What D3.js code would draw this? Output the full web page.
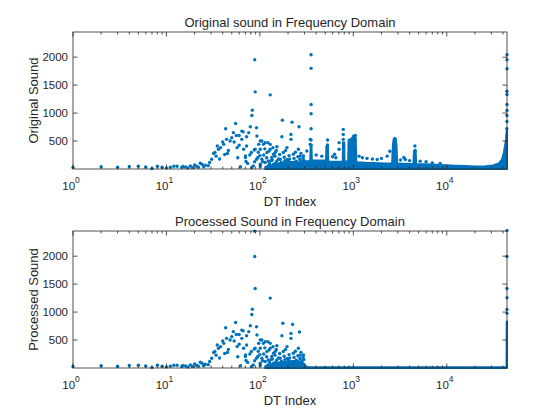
<!DOCTYPE html>
<html>
<head>
<meta charset="utf-8">
<script src="https://cdn.jsdelivr.net/npm/d3@7"></script>
<style>
  body { margin: 0; background: #fff; }
  text { font-family: "Liberation Sans", Arial, sans-serif; fill: #262626; }
</style>
</head>
<body>
<div id="chart"></div>
<script>
// low index bins (1..13)
var lowX = [1, 2, 3, 4, 5, 6, 7, 8, 9, 10, 11, 12, 13];
var lowY = [27, 41, 32, 44, 50, 37, 9, 50, 32, 20, 32, 50, 50];

// scattered cloud shared by both spectra (index, magnitude)
var cloudX = [83, 82, 55, 43, 79, 92, 66, 52, 76, 56, 48, 41, 38, 33, 32, 30.5, 29, 26, 23, 20, 18, 16, 14.6,
  45, 67, 70, 71, 93, 97, 101, 109, 122, 89, 95, 81, 64, 60, 57, 53, 50, 44, 40, 36, 35, 72, 60,
  119, 129, 146, 105, 134, 152, 114, 140, 85, 101, 122, 64, 172, 215, 215, 114, 105, 129, 72, 87,
  152, 101, 195, 258, 178, 140, 228, 293, 70, 92, 165, 123, 202, 250, 82, 101,
  110, 118, 125, 132, 138, 145, 150, 158, 163, 170, 182, 188, 196, 205, 210, 232, 240, 245, 255,
  268, 275, 282, 290, 100, 107, 113, 127, 136, 148, 160, 175, 185, 198, 208, 220, 235, 248, 262,
  270, 286, 296, 88, 96, 78, 74, 62, 58, 46, 42, 37, 34, 28, 25, 24, 22, 21, 19, 17, 15];
var cloudY = [1052, 958, 815, 721, 756, 739, 667, 650, 650, 600, 500, 441, 383, 294, 276, 174, 116, 68, 103, 73, 55, 37, 27,
  276, 352, 233, 133, 589, 441, 500, 441, 471, 352, 205, 294, 530, 424, 383, 482, 560, 530, 482, 352, 411, 578, 600,
  294, 352, 294, 174, 205, 144, 116, 85, 55, 85, 55, 678, 578, 619, 530, 471, 500, 441, 411, 340,
  400, 352, 383, 352, 294, 263, 263, 233, 205, 174, 174, 144, 144, 116, 27, 44,
  250, 200, 320, 150, 380, 230, 330, 180, 260, 120, 210, 330, 170, 240, 95, 190, 300, 140, 220,
  170, 280, 130, 190, 240, 130, 360, 100, 160, 110, 70, 90, 150, 60, 180, 110, 75, 60, 100,
  230, 80, 150, 130, 300, 250, 100, 40, 200, 330, 260, 180, 230, 60, 40, 85, 30, 50, 28, 20, 45];

// points seen only in the original spectrum
var origX = [88, 89, 129, 174, 221, 262, 353, 353, 353, 353, 353, 353, 353, 346, 346, 318, 346,
  530, 530, 524, 780, 780, 780, 788, 630, 704, 704, 955, 1050, 1050, 2780, 2780, 2780, 2460, 4560, 4590, 3470,
  44100, 44050, 44100, 44000, 44100, 44050, 44100, 44000, 44050, 43900,
  400, 460, 600, 650, 1150, 1250, 1400, 1600, 1800, 2000, 2300, 3200, 3600, 4000, 5200, 6000, 7000, 8500];
var origY = [1954, 1380, 1326, 874, 838, 756, 2043, 1800, 1153, 988, 721, 518, 424, 530, 441, 322, 116,
  518, 429, 400, 708, 619, 530, 420, 263, 471, 352, 530, 601, 500, 543, 471, 420, 317, 411, 330, 205,
  2043, 1954, 1794, 1390, 1331, 1153, 1046, 957, 850, 721,
  250, 230, 220, 200, 230, 200, 190, 180, 170, 190, 230, 160, 170, 150, 140, 130, 110, 100];

// points seen only in the processed spectrum
var procX = [88, 88, 89, 129, 176, 224, 265, 44100, 44100, 44050, 44100, 44050, 44100];
var procY = [2447, 1995, 1423, 1250, 800, 780, 643, 2460, 1995, 1423, 1257, 1048, 977];

// upper edge of the dense band of points near the baseline
var origBandX = [114, 146, 190, 240, 290, 310, 345, 350, 356, 360, 440, 510, 515, 535, 540, 740, 770, 775, 800, 805,
  880, 890, 960, 1000, 1060, 1075, 1100, 1350, 2200, 2600, 2650, 2700, 2850, 2900, 2950, 4400, 4450, 4650, 4700,
  5900, 7600, 9800, 12500, 16000, 20000, 26000, 31000, 36000, 39000, 40900, 43000, 43500, 44100];
var origBandY = [30, 90, 120, 130, 110, 140, 140, 420, 420, 150, 150, 150, 400, 400, 130, 130, 130, 480, 480, 130,
  140, 520, 540, 600, 560, 140, 120, 110, 100, 100, 420, 540, 540, 400, 100, 90, 320, 320, 90,
  85, 75, 68, 60, 52, 46, 50, 62, 100, 170, 300, 520, 640, 700];
var procBandX = [114, 146, 190, 240, 280, 300, 315, 340, 1000, 10000, 43600, 43800, 44100];
var procBandY = [30, 90, 110, 130, 110, 70, 25, 12, 12, 12, 12, 833, 833];

var xTicks = [1, 10, 100, 1000, 10000];
var yTicks = [500, 1000, 1500, 2000];

var width = 560, height = 420;
var left = 73, right = 507;
var blue = '#0072BD', ink = '#262626';

var panels = [
  { top: 32, bottom: 169, title: 'Original sound in Frequency Domain', ylabel: 'Original Sound',
    xs: lowX.concat(cloudX, origX), ys: lowY.concat(cloudY, origY), bx: origBandX, by: origBandY },
  { top: 231, bottom: 368, title: 'Processed Sound in Frequency Domain', ylabel: 'Processed Sound',
    xs: lowX.concat(cloudX, procX), ys: lowY.concat(cloudY, procY), bx: procBandX, by: procBandY }
];

var svg = d3.select('#chart').append('svg')
  .attr('width', width)
  .attr('height', height);

var x = d3.scaleLog().domain([1, 44100]).range([left, right]);

// minor ticks on the log axis
var minor = [];
for (var d = 1; d < 44100; d *= 10) {
  for (var m = 2; m <= 9; m++) {
    if (d * m < 44100) minor.push(d * m);
  }
}

panels.forEach(function (p) {
  var y = d3.scaleLinear().domain([0, 2450]).range([p.bottom, p.top]);
  var g = svg.append('g');

  var area = d3.area()
    .x(function (d, i) { return x(p.bx[i]); })
    .y0(y(0))
    .y1(function (d, i) { return y(p.by[i]); });

  g.append('path')
    .datum(p.bx)
    .attr('d', area)
    .attr('fill', blue)
    .attr('stroke', blue)
    .attr('stroke-width', 2)
    .attr('stroke-linejoin', 'round');

  g.selectAll('circle')
    .data(p.xs)
    .enter().append('circle')
    .attr('cx', function (d) { return x(d); })
    .attr('cy', function (d, i) { return y(p.ys[i]); })
    .attr('r', 1.7)
    .attr('fill', blue);

  // box
  g.append('rect')
    .attr('x', left).attr('y', p.top)
    .attr('width', right - left).attr('height', p.bottom - p.top)
    .attr('fill', 'none').attr('stroke', ink).attr('stroke-width', 0.8);

  // x ticks, inside on bottom and top
  [[p.bottom, -1], [p.top, 1]].forEach(function (e) {
    g.selectAll(null).data(xTicks).enter().append('line')
      .attr('x1', x).attr('x2', x)
      .attr('y1', e[0]).attr('y2', e[0] + e[1] * 4.5)
      .attr('stroke', ink).attr('stroke-width', 0.8);
    g.selectAll(null).data(minor).enter().append('line')
      .attr('x1', x).attr('x2', x)
      .attr('y1', e[0]).attr('y2', e[0] + e[1] * 2.5)
      .attr('stroke', ink).attr('stroke-width', 0.8);
  });

  // y ticks, inside on left and right
  [[left, 1], [right, -1]].forEach(function (e) {
    g.selectAll(null).data(yTicks).enter().append('line')
      .attr('x1', e[0]).attr('x2', e[0] + e[1] * 4.5)
      .attr('y1', y).attr('y2', y)
      .attr('stroke', ink).attr('stroke-width', 0.8);
  });

  var xl = g.selectAll(null).data(xTicks).enter().append('text')
    .attr('x', function (d) { return x(d) - 2; })
    .attr('y', p.bottom + 21)
    .attr('text-anchor', 'middle')
    .style('font-size', '11.5px');
  xl.append('tspan').text('10');
  xl.append('tspan')
    .attr('dy', -7)
    .style('font-size', '8.5px')
    .text(function (d) { return Math.round(Math.log10(d)); });

  g.selectAll(null).data(yTicks).enter().append('text')
    .attr('x', left - 5)
    .attr('y', y)
    .attr('dy', '0.35em')
    .attr('text-anchor', 'end')
    .style('font-size', '11.5px')
    .text(function (d) { return d; });

  g.append('text')
    .attr('x', (left + right) / 2)
    .attr('y', p.top - 5)
    .attr('text-anchor', 'middle')
    .style('font-size', '13px')
    .text(p.title);

  g.append('text')
    .attr('x', (left + right) / 2)
    .attr('y', p.bottom + 37)
    .attr('text-anchor', 'middle')
    .style('font-size', '13px')
    .text('DT Index');

  g.append('text')
    .attr('transform', 'translate(' + 38 + ',' + ((p.top + p.bottom) / 2) + ') rotate(-90)')
    .attr('text-anchor', 'middle')
    .style('font-size', '13px')
    .text(p.ylabel);
});
</script>
</body>
</html>
